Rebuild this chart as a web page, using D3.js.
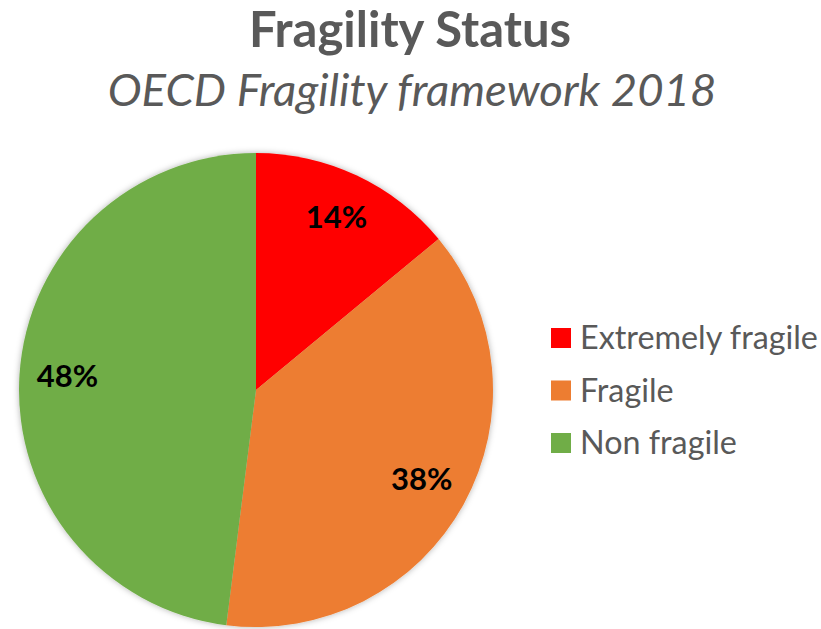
<!DOCTYPE html>
<html>
<head>
<meta charset="utf-8">
<script src="https://cdn.jsdelivr.net/npm/d3@7"></script>
<style>
  body { margin: 0; background: #fff; }
  text { font-family: Lato, "Open Sans", sans-serif; }
</style>
</head>
<body>
<div id="chart"></div>
<script>
// Chart data
var categories = ["Extremely fragile", "Fragile", "Non fragile"];
var shares = [14, 38, 48];
var colors = ["#FF0000", "#ED7D31", "#70AD47"];

var svgWidth = 821;
var svgHeight = 629;

var svg = d3.select("#chart")
    .append("svg")
    .attr("width", svgWidth)
    .attr("height", svgHeight);

// soft shadow under the pie
var defs = svg.append("defs");
var shadow = defs.append("filter")
    .attr("id", "shadow")
    .attr("x", "-10%").attr("y", "-10%")
    .attr("width", "120%").attr("height", "120%");
shadow.append("feDropShadow")
    .attr("dx", 0).attr("dy", 0)
    .attr("stdDeviation", 3)
    .attr("flood-color", "#000")
    .attr("flood-opacity", 0.3);

// Titles
svg.append("text")
    .attr("x", 410)
    .attr("y", 47)
    .attr("text-anchor", "middle")
    .attr("font-size", 49)
    .attr("font-weight", "bold")
    .attr("fill", "#595959")
    .text("Fragility Status");

svg.append("text")
    .attr("x", 412)
    .attr("y", 106)
    .attr("text-anchor", "middle")
    .attr("font-size", 45.5)
    .attr("font-style", "italic")
    .attr("fill", "#595959")
    .text("OECD Fragility framework 2018");

// Pie
var cx = 256, cy = 390, radius = 237;

var pie = d3.pie().sort(null).value(d => d);
var arcs = pie(shares);

var arc = d3.arc().innerRadius(0).outerRadius(radius);
var labelArc = d3.arc().innerRadius(189).outerRadius(189);

var pieGroup = svg.append("g")
    .attr("transform", `translate(${cx}, ${cy})`);

pieGroup.append("g")
    .attr("filter", "url(#shadow)")
    .selectAll("path")
    .data(arcs)
    .enter()
    .append("path")
    .attr("d", arc)
    .attr("fill", (d, i) => colors[i]);

pieGroup.selectAll(".slice-label")
    .data(arcs)
    .enter()
    .append("text")
    .attr("class", "slice-label")
    .attr("transform", d => `translate(${labelArc.centroid(d)})`)
    .attr("text-anchor", "middle")
    .attr("dy", "0.3em")
    .attr("font-size", 31)
    .attr("font-weight", "bold")
    .attr("fill", "#000")
    .text(d => d.data + "%");

// Legend
var legend = svg.append("g")
    .attr("transform", "translate(551, 338)");

var rows = legend.selectAll("g")
    .data(categories)
    .enter()
    .append("g")
    .attr("transform", (d, i) => `translate(0, ${i * 52.5})`);

rows.append("rect")
    .attr("x", 0)
    .attr("y", -10)
    .attr("width", 20)
    .attr("height", 20)
    .attr("fill", (d, i) => colors[i]);

rows.append("text")
    .attr("x", 29)
    .attr("y", 0)
    .attr("dy", "0.35em")
    .attr("font-size", 32.3)
    .attr("fill", "#595959")
    .text(d => d);
</script>
</body>
</html>
